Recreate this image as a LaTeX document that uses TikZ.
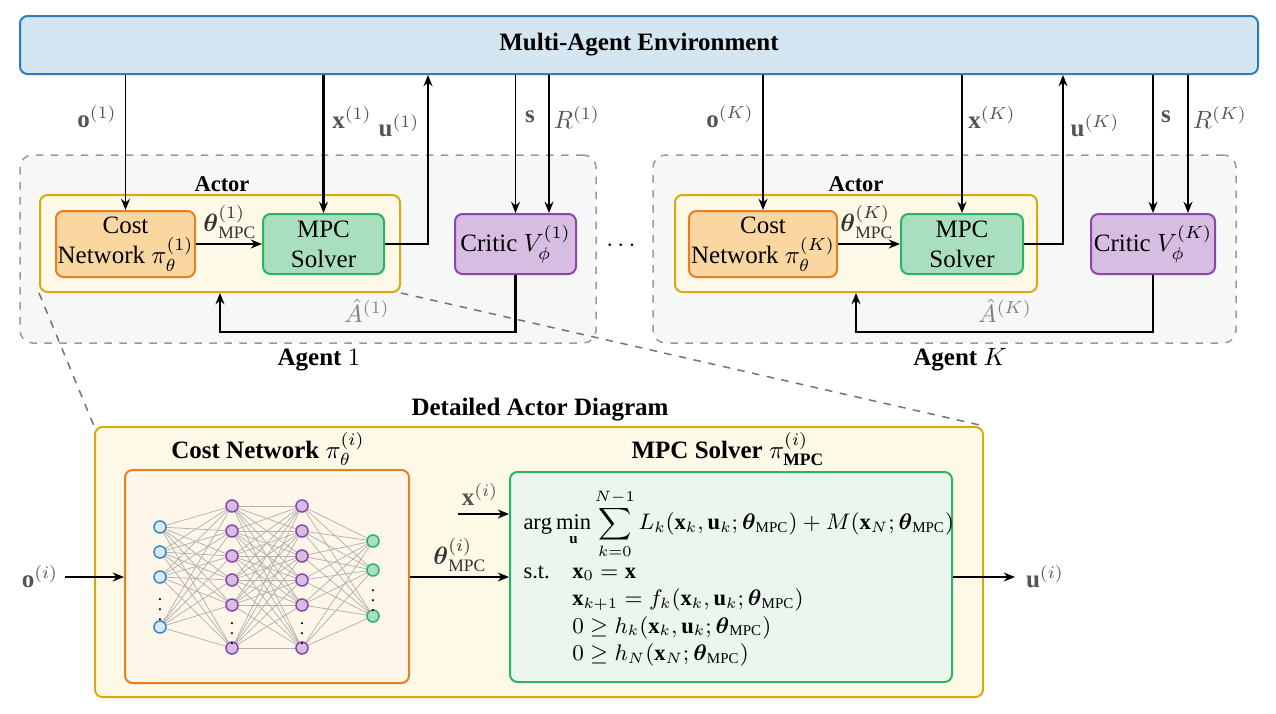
\documentclass[tikz,border=0pt]{standalone}
\usepackage{amsmath,amssymb}
\usepackage{fontspec}
\setmainfont{Liberation Serif}
\usetikzlibrary{arrows.meta}

\definecolor{envFill}{HTML}{D4E6F1}
\definecolor{envDraw}{HTML}{2E7DB8}
\definecolor{agentFill}{HTML}{F6F8F8}
\definecolor{actorFill}{HTML}{FEF8E7}
\definecolor{actorDraw}{HTML}{D9A90F}
\definecolor{costFill}{HTML}{FAD7A0}
\definecolor{costDraw}{HTML}{E67E22}
\definecolor{mpcFill}{HTML}{A9DFBF}
\definecolor{mpcDraw}{HTML}{28B463}
\definecolor{criticFill}{HTML}{D7BDE2}
\definecolor{criticDraw}{HTML}{8E44AD}
\definecolor{inFill}{HTML}{D6EAF8}
\definecolor{inDraw}{HTML}{3A86C0}
\definecolor{nnFill}{HTML}{FEF6E9}
\definecolor{solverFill}{HTML}{EBF7EE}
\definecolor{lblGray}{HTML}{555555}

\newdimen\pxu
\pxu=0.4pt

\tikzset{
  block/.style={draw, rounded corners=3pt, line width=0.8pt, align=center, inner sep=0pt},
  envbox/.style={block, fill=envFill, draw=envDraw},
  agentbox/.style={draw=black!40, dashed, fill=agentFill, rounded corners=5pt, line width=0.6pt},
  actorbox/.style={block, fill=actorFill, draw=actorDraw},
  costbox/.style={block, fill=costFill, draw=costDraw},
  mpcbox/.style={block, fill=mpcFill, draw=mpcDraw},
  criticbox/.style={block, fill=criticFill, draw=criticDraw},
  lbl/.style={text=lblGray},
  flow/.style={->, line width=0.6pt},
  bigflow/.style={->, line width=0.9pt},
  zoomline/.style={dashed, draw=black!55, line width=0.6pt},
  neuron/.style={circle, draw, line width=0.6pt, minimum size=12\pxu, inner sep=0pt},
  synapse/.style={draw=black!30, line width=0.3pt},
  vdotsn/.style={font=\scriptsize, inner sep=0pt}
}

\begin{document}
\begin{tikzpicture}[x=\pxu, y=-\pxu, >={Stealth[length=4.5pt, width=3.6pt]}]
  \useasboundingbox (0,0) rectangle (1276,714);

  % Environment
  \node[envbox, minimum width=1238\pxu, minimum height=58\pxu] (env) at (639,45) {\textbf{Multi-Agent Environment}};

  % Agent 1
  \node[agentbox, minimum width=576\pxu, minimum height=188\pxu] (agent1) at (308,249) {};
  \node (agent1lbl) at (319,360) {\textbf{Agent} $1$};
  \node[actorbox, minimum width=360\pxu, minimum height=97\pxu] (actor1) at (220,243.5) {};
  \node[font=\small] (actor1lbl) at (222,184) {\textbf{Actor}};
  \node[costbox, minimum width=139\pxu, minimum height=66\pxu] (cost1) at (125.5,244) {Cost\\Network $\pi_\theta^{(1)}$};
  \node[mpcbox, minimum width=121\pxu, minimum height=60\pxu] (mpc1) at (323.5,244) {MPC\\Solver};
  \node[criticbox, minimum width=121\pxu, minimum height=60\pxu] (critic1) at (515.5,244) {Critic $V_\phi^{(1)}$};
  \coordinate (u1) at (428,244);
  \coordinate (r1) at (549,244);

  \draw[flow] (cost1.north |- env.south) -- (cost1.north);
  \draw[bigflow] (mpc1.north |- env.south) -- (mpc1.north);
  \draw[flow] (mpc1.east) -- (u1) -- (u1 |- env.south);
  \draw[flow] (critic1.north |- env.south) -- (critic1.north);
  \draw[bigflow] (r1 |- env.south) -- (r1 |- critic1.north);
  \draw[flow] (cost1.east) -- (mpc1.west);
  \draw[bigflow] (critic1.south) -- ++(0,57) -| (actor1.south);

  \node[lbl] (o1lbl) at (97,117) {$\mathbf{o}^{(1)}$};
  \node[lbl] (x1lbl) at (352,117) {$\mathbf{x}^{(1)}$};
  \node[lbl] (u1lbl) at (399,126) {$\mathbf{u}^{(1)}$};
  \node[lbl] (s1lbl) at (530,117) {$\mathbf{s}$};
  \node[lbl] (r1lbl) at (577,117) {$R^{(1)}$};
  \node[text=black!80] (th1lbl) at (230,222) {$\boldsymbol{\theta}_{\mathrm{MPC}}^{(1)}$};
  \node[text=black!50] (a1lbl) at (367,311) {$\hat{A}^{(1)}$};

  \node (dots) at (623,246) {$\cdots$};

  % Agent K
  \node[agentbox, minimum width=583\pxu, minimum height=188\pxu] (agentK) at (944.5,249) {};
  \node (agentKlbl) at (960,360) {\textbf{Agent} $K$};
  \node[actorbox, minimum width=362\pxu, minimum height=97\pxu] (actorK) at (856,243.5) {};
  \node[font=\small] (actorKlbl) at (856,184) {\textbf{Actor}};
  \node[costbox, minimum width=148\pxu, minimum height=66\pxu] (costK) at (763,244) {Cost\\Network $\pi_\theta^{(K)}$};
  \node[mpcbox, minimum width=122\pxu, minimum height=60\pxu] (mpcK) at (962,244) {MPC\\Solver};
  \node[criticbox, minimum width=124\pxu, minimum height=60\pxu] (criticK) at (1153,244) {Critic $V_\phi^{(K)}$};
  \coordinate (uK) at (1063,244);
  \coordinate (rK) at (1188,244);

  \draw[flow] (costK.north |- env.south) -- (costK.north);
  \draw[bigflow] (mpcK.north |- env.south) -- (mpcK.north);
  \draw[flow] (mpcK.east) -- (uK) -- (uK |- env.south);
  \draw[flow] (criticK.north |- env.south) -- (criticK.north);
  \draw[bigflow] (rK |- env.south) -- (rK |- criticK.north);
  \draw[flow] (costK.east) -- (mpcK.west);
  \draw[bigflow] (criticK.south) -- ++(0,57) -| (actorK.south);

  \node[lbl] (oKlbl) at (730,117) {$\mathbf{o}^{(K)}$};
  \node[lbl] (xKlbl) at (992,117) {$\mathbf{x}^{(K)}$};
  \node[lbl] (uKlbl) at (1095,126) {$\mathbf{u}^{(K)}$};
  \node[lbl] (sKlbl) at (1166,117) {$\mathbf{s}$};
  \node[lbl] (rKlbl) at (1220,117) {$R^{(K)}$};
  \node[text=black!80] (thKlbl) at (867,222) {$\boldsymbol{\theta}_{\mathrm{MPC}}^{(K)}$};
  \node[text=black!50] (aKlbl) at (1005,311) {$\hat{A}^{(K)}$};

  % Detailed actor
  \node[actorbox, minimum width=888\pxu, minimum height=270\pxu] (detail) at (539,562) {};
  \draw[zoomline] (actor1.south west) -- (detail.north west);
  \draw[zoomline] (actor1.south east) -- (detail.north east);
  \node (detaillbl) at (540,410) {\textbf{Detailed Actor Diagram}};
  \node (nnlbl) at (268,449) {\textbf{Cost Network} $\pi_\theta^{(i)}$};
  \node (solverlbl) at (728,449) {\textbf{MPC Solver} $\pi^{(i)}_{\textbf{MPC}}$};

  \node[block, fill=nnFill, draw=costDraw, minimum width=284\pxu, minimum height=213\pxu] (nn) at (267,576.5) {};
  \node[block, fill=solverFill, draw=mpcDraw, minimum width=442\pxu, minimum height=210\pxu] (solver) at (731,577) {};

  % Layers of the cost network
  \foreach \y [count=\i] in {527,552,577,627} \coordinate (in\i) at (160,\y);
  \foreach \y [count=\i] in {506,531,556,580,605,648} {
    \coordinate (ha\i) at (232,\y);
    \coordinate (hb\i) at (302,\y);
  }
  \foreach \y [count=\i] in {541,570,616} \coordinate (out\i) at (373,\y);

  \foreach \i in {1,...,4} \foreach \j in {1,...,6} \draw[synapse] (in\i) -- (ha\j);
  \foreach \i in {1,...,6} \foreach \j in {1,...,6} \draw[synapse] (ha\i) -- (hb\j);
  \foreach \i in {1,...,6} \foreach \j in {1,...,3} \draw[synapse] (hb\i) -- (out\j);

  \foreach \i in {1,...,4} \node[neuron, fill=inFill, draw=inDraw] (inN\i) at (in\i) {};
  \foreach \i in {1,...,6} {
    \node[neuron, fill=criticFill, draw=criticDraw] (haN\i) at (ha\i) {};
    \node[neuron, fill=criticFill, draw=criticDraw] (hbN\i) at (hb\i) {};
  }
  \foreach \i in {1,...,3} \node[neuron, fill=mpcFill, draw=mpcDraw] (outN\i) at (out\i) {};
  \node[vdotsn] (indots) at (160,602) {$\vdots$};
  \node[vdotsn] (hadots) at (232,626) {$\vdots$};
  \node[vdotsn] (hbdots) at (302,626) {$\vdots$};
  \node[vdotsn] (outdots) at (373,593) {$\vdots$};

  % MPC problem
  \node[anchor=west, inner sep=0pt, font=\small] (problem) at (523,579) {%
    \begin{tabular}{@{}l@{\quad}l@{}}
      \multicolumn{2}{@{}l@{}}{$\displaystyle \arg\min_{\mathbf{u}} \sum_{k=0}^{N-1} L_k(\mathbf{x}_k,\mathbf{u}_k;\boldsymbol{\theta}_{\mathrm{MPC}}) + M(\mathbf{x}_N;\boldsymbol{\theta}_{\mathrm{MPC}})$}\\[4pt]
      s.t. & $\mathbf{x}_0 = \mathbf{x}$\\
           & $\mathbf{x}_{k+1} = f_k(\mathbf{x}_k,\mathbf{u}_k;\boldsymbol{\theta}_{\mathrm{MPC}})$\\
           & $0 \geq h_k(\mathbf{x}_k,\mathbf{u}_k;\boldsymbol{\theta}_{\mathrm{MPC}})$\\
           & $0 \geq h_N(\mathbf{x}_N;\boldsymbol{\theta}_{\mathrm{MPC}})$
    \end{tabular}};

  % Inputs and outputs of the actor
  \coordinate (oin) at (65,577);
  \coordinate (xin) at (458,514);
  \coordinate (uout) at (1015,577);
  \node[lbl] (oilbl) at (40,577) {$\mathbf{o}^{(i)}$};
  \node[lbl] (uilbl) at (1045,577) {$\mathbf{u}^{(i)}$};
  \node[lbl] (xilbl) at (480,494) {$\mathbf{x}^{(i)}$};
  \node[text=black!80] (thilbl) at (460,555) {$\boldsymbol{\theta}_{\mathrm{MPC}}^{(i)}$};
  \draw[flow] (oin) -- (nn.west |- oin);
  \draw[flow] (nn.east |- oin) -- (solver.west |- oin);
  \draw[flow] (xin) -- (solver.west |- xin);
  \draw[flow] (solver.east |- uout) -- (uout);
\end{tikzpicture}
\end{document}
